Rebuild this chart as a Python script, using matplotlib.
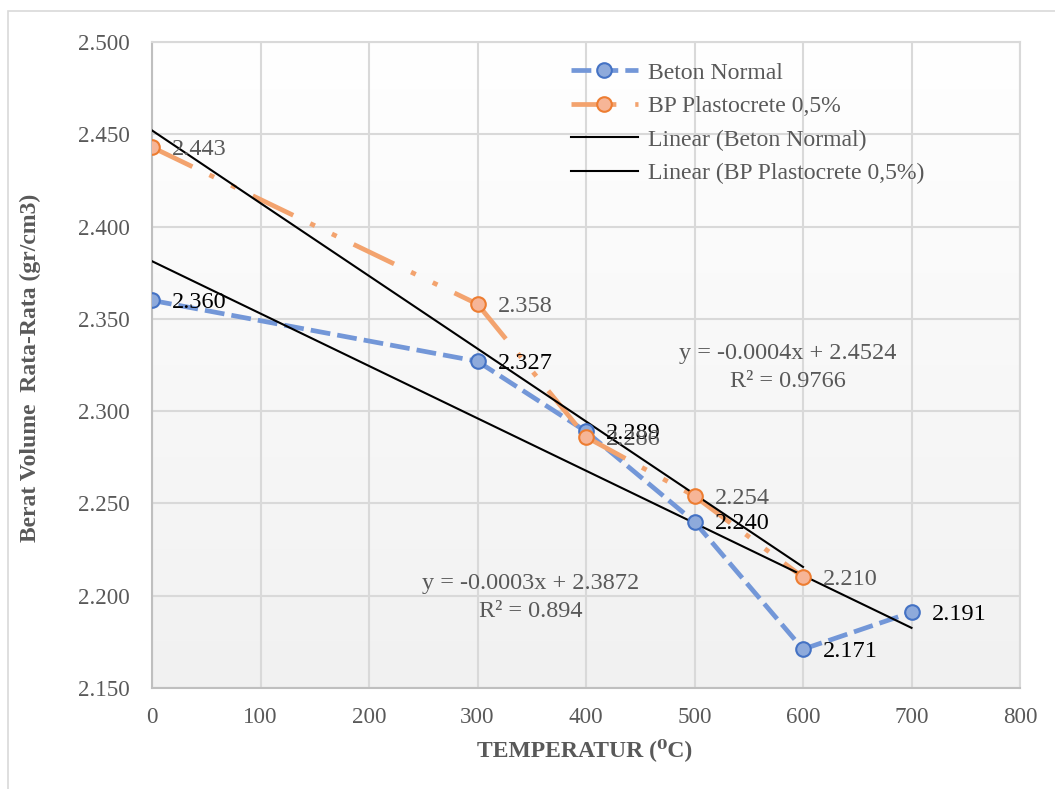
import numpy as np
import matplotlib
matplotlib.use("Agg")
import matplotlib.pyplot as plt
from matplotlib.lines import Line2D
from matplotlib.patches import Rectangle
from matplotlib.colors import LinearSegmentedColormap

plt.rcParams['font.family'] = ['Liberation Serif', 'DejaVu Serif']

# ---- data ----
temp_normal = [0, 300, 400, 500, 600, 700]
bv_normal = [2.360, 2.327, 2.289, 2.240, 2.171, 2.191]
temp_plasto = [0, 300, 400, 500, 600]
bv_plasto = [2.443, 2.358, 2.286, 2.254, 2.210]

series_names = ["Beton Normal", "BP Plastocrete 0,5%",
                "Linear (Beton Normal)", "Linear (BP Plastocrete 0,5%)"]
eq_normal = ["y = -0.0003x + 2.3872", "R\u00b2 = 0.894"]
eq_plasto = ["y = -0.0004x + 2.4524", "R\u00b2 = 0.9766"]

x_ticks = [0, 100, 200, 300, 400, 500, 600, 700, 800]
y_ticks = [2.150, 2.200, 2.250, 2.300, 2.350, 2.400, 2.450, 2.500]

# ---- style ----
GREY_TXT = '#595959'
BLUE_LINE, BLUE_FACE, BLUE_EDGE = '#7397d8', '#8eaadb', '#4472c4'
ORNG_LINE, ORNG_FACE, ORNG_EDGE = '#f3a36e', '#f6b597', '#ed7d31'
LW = 3.4
BLUE_DASH = (4.2, 1.5)
ORNG_DASH = (9.5, 4.0, 1.1, 4.0, 1.1, 4.0)
FS_TEXT = 17.5

W, H = 1055, 789
fig = plt.figure(figsize=(W / 100, H / 100), dpi=100)
ax = fig.add_axes([152 / W, 1 - 688 / H, 868 / W, 646 / H])

# chart frame
fig.add_artist(Rectangle((8 / W, -0.1), 2, 1 - 11 / H + 0.1, transform=fig.transFigure,
                         fill=False, edgecolor='#d9d9d9', lw=1.2))

# plot-area gradient
bg = LinearSegmentedColormap.from_list('bg', ['#f1f1f1', '#ffffff'])
ax.imshow(np.linspace(0, 1, 256).reshape(-1, 1), extent=[0, 1, 0, 1], origin='lower',
          transform=ax.transAxes, cmap=bg, aspect='auto', zorder=0)

ax.set_xlim(x_ticks[0], x_ticks[-1])
ax.set_ylim(y_ticks[0], y_ticks[-1])
ax.set_aspect('auto')
ax.set_xticks(x_ticks)
ax.set_yticks(y_ticks)
ax.set_yticklabels([f"{v:.3f}" for v in y_ticks])
ax.grid(True, color='#d9d9d9', lw=1.5, zorder=0.5)
ax.set_axisbelow(True)
ax.tick_params(length=0, labelsize=16.6, labelcolor=GREY_TXT)
ax.tick_params(axis='x', pad=14)
ax.tick_params(axis='y', pad=16)
for side in ('left', 'bottom'):
    ax.spines[side].set_color('#bfbfbf')
    ax.spines[side].set_linewidth(1.5)
for side in ('top', 'right'):
    ax.spines[side].set_color('#d9d9d9')
    ax.spines[side].set_linewidth(1.5)


def draw_series(xs, ys, color, dashes):
    # each segment restarts its dash pattern
    for i in range(len(xs) - 1):
        ax.plot(xs[i:i + 2], ys[i:i + 2], color=color, lw=LW, dashes=dashes,
                dash_capstyle='butt', solid_capstyle='butt', zorder=2)


draw_series(temp_normal, bv_normal, BLUE_LINE, BLUE_DASH)
draw_series(temp_plasto, bv_plasto, ORNG_LINE, ORNG_DASH)

# linear trend lines
for xs, ys in ((temp_normal, bv_normal), (temp_plasto, bv_plasto)):
    k, b = np.polyfit(xs, ys, 1)
    xx = np.array([xs[0], xs[-1]])
    ax.plot(xx, k * xx + b, color='black', lw=1.5, zorder=3)

ax.plot(temp_normal, bv_normal, ls='none', marker='o', ms=10.5, mfc=BLUE_FACE,
        mec=BLUE_EDGE, mew=1.5, zorder=4)
ax.plot(temp_plasto, bv_plasto, ls='none', marker='o', ms=10.5, mfc=ORNG_FACE,
        mec=ORNG_EDGE, mew=1.5, zorder=4)

# data labels
for x, y in zip(temp_normal, bv_normal):
    ax.annotate(f"{y:.3f}", (x, y), xytext=(14.5, -1.5), textcoords='offset points',
                ha='left', va='center', fontsize=FS_TEXT, color='black', zorder=6)
for x, y in zip(temp_plasto, bv_plasto):
    ax.annotate(f"{y:.3f}", (x, y), xytext=(14.5, -1.5), textcoords='offset points',
                ha='left', va='center', fontsize=FS_TEXT, color=GREY_TXT, zorder=6)

# trend equations
ax.text(586, 2.3310, eq_plasto[0], ha='center', va='center', fontsize=FS_TEXT, color=GREY_TXT, zorder=6)
ax.text(586, 2.3158, eq_plasto[1], ha='center', va='center', fontsize=FS_TEXT, color=GREY_TXT, zorder=6)
ax.text(349, 2.2066, eq_normal[0], ha='center', va='center', fontsize=FS_TEXT, color=GREY_TXT, zorder=6)
ax.text(349, 2.1915, eq_normal[1], ha='center', va='center', fontsize=FS_TEXT, color=GREY_TXT, zorder=6)

# axis titles
ax.set_xlabel("TEMPERATUR (\u2070C)", fontsize=17, fontweight='bold', color=GREY_TXT)
ax.xaxis.set_label_coords(0.4988, -0.096)
ax.xaxis.label.set_va('center')
ax.set_ylabel("Berat Volume  Rata-Rata (gr/cm3)", fontsize=17, fontweight='bold', color=GREY_TXT)
ax.yaxis.set_label_coords(-0.1406, 0.495)
ax.yaxis.label.set_va('center')

# legend
handles = [
    Line2D([], [], color=BLUE_LINE, lw=LW, dashes=BLUE_DASH, marker='o', ms=10.5,
           mfc=BLUE_FACE, mec=BLUE_EDGE, mew=1.5),
    Line2D([], [], color=ORNG_LINE, lw=LW, dashes=ORNG_DASH, marker='o', ms=10.5,
           mfc=ORNG_FACE, mec=ORNG_EDGE, mew=1.5),
    Line2D([], [], color='black', lw=1.5),
    Line2D([], [], color='black', lw=1.5),
]
leg = fig.legend(handles, series_names, loc='upper left',
                 bbox_to_anchor=(571 / W, 1 - 62 / H), frameon=False,
                 fontsize=17.1, handlelength=2.8, handletextpad=0.45,
                 labelspacing=0.5, borderpad=0, borderaxespad=0)
for t in leg.get_texts():
    t.set_color(GREY_TXT)

fig.savefig("out.png", dpi=100)
